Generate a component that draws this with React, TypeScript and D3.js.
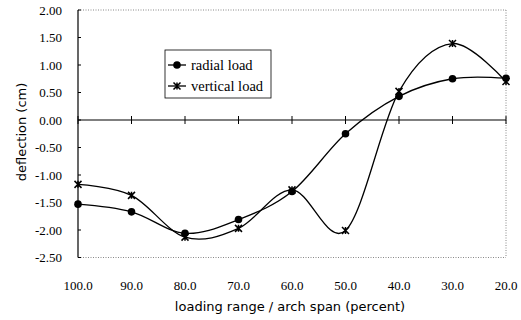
import { useEffect, useRef } from 'react';
import { select, scaleLinear, line, curveCardinal } from 'd3';

const spans = [100, 90, 80, 70, 60, 50, 40, 30, 20];
const radialLoad = [-1.53, -1.67, -2.06, -1.81, -1.3, -0.25, 0.43, 0.75, 0.76];
const verticalLoad = [-1.17, -1.37, -2.13, -1.97, -1.27, -2.01, 0.52, 1.39, 0.7];
const yTicks = [2, 1.5, 1, 0.5, 0, -0.5, -1, -1.5, -2, -2.5];

const App = () => {
    const svgRef = useRef(null);

    useEffect(() => {
        const width = 521;
        const height = 320;
        const margin = { top: 10, right: 15, bottom: 62, left: 78 };
        const plotWidth = width - margin.left - margin.right;
        const font = '"Liberation Serif", "Times New Roman", serif';
        const sans = '"DejaVu Sans", sans-serif';

        const svg = select(svgRef.current);
        svg.selectAll('*').remove();
        svg.attr('width', width).attr('height', height);

        const g = svg.append('g')
            .attr('transform', `translate(${margin.left},${margin.top})`);

        const x = scaleLinear().domain([100, 20]).range([0, plotWidth]);
        const y = scaleLinear().domain([2, -2.5]).range([0, 247.5]);

        // dotted frame (top, right, bottom)
        const dotted = (x1, y1, x2, y2) => g.append('line')
            .attr('x1', x1).attr('y1', y1).attr('x2', x2).attr('y2', y2)
            .attr('stroke', '#888').attr('stroke-width', 1)
            .attr('stroke-dasharray', '1,1.5');
        dotted(0, y(2), plotWidth, y(2));
        dotted(plotWidth, y(2), plotWidth, y(-2.5));
        dotted(0, y(-2.5), plotWidth, y(-2.5));

        // left axis
        g.append('line')
            .attr('x1', 0).attr('x2', 0).attr('y1', y(2)).attr('y2', y(-2.5))
            .attr('stroke', '#000').attr('stroke-width', 1.2);
        g.selectAll('.ytick').data(yTicks).enter().append('line')
            .attr('x1', 0).attr('x2', 3)
            .attr('y1', d => y(d)).attr('y2', d => y(d))
            .attr('stroke', '#000');
        g.selectAll('.ylab').data(yTicks).enter().append('text')
            .attr('x', -16).attr('y', d => y(d) + 4.5)
            .attr('text-anchor', 'end')
            .attr('font-family', font).attr('font-size', 13)
            .text(d => d.toFixed(2));

        // zero line with ticks
        g.append('line')
            .attr('x1', 0).attr('x2', plotWidth).attr('y1', y(0)).attr('y2', y(0))
            .attr('stroke', '#000').attr('stroke-width', 1.1);
        g.selectAll('.xtick').data(spans).enter().append('line')
            .attr('x1', d => x(d)).attr('x2', d => x(d))
            .attr('y1', y(0) - 4).attr('y2', y(0) + 4)
            .attr('stroke', '#000');
        g.selectAll('.xlab').data(spans).enter().append('text')
            .attr('x', d => x(d)).attr('y', 280)
            .attr('text-anchor', 'middle')
            .attr('font-family', font).attr('font-size', 13)
            .text(d => d.toFixed(1));

        // axis titles
        svg.append('text')
            .attr('x', 290).attr('y', 311)
            .attr('text-anchor', 'middle')
            .attr('font-family', sans).attr('font-size', 13)
            .text('loading range / arch span (percent)');
        svg.append('text')
            .attr('transform', 'translate(26,132) rotate(-90)')
            .attr('text-anchor', 'middle')
            .attr('font-family', sans).attr('font-size', 13)
            .text('deflection (cm)');

        const path = line()
            .x(d => x(d[0]))
            .y(d => y(d[1]))
            .curve(curveCardinal.tension(0));

        const drawSeries = (values) => {
            g.append('path')
                .datum(spans.map((s, i) => [s, values[i]]))
                .attr('d', path)
                .attr('fill', 'none')
                .attr('stroke', '#000')
                .attr('stroke-width', 1.3);
        };
        drawSeries(radialLoad);
        drawSeries(verticalLoad);

        const star = (sel, cx, cy, r) => {
            sel.append('path')
                .attr('d', `M${cx - r},${cy - r}L${cx + r},${cy + r}M${cx - r},${cy + r}L${cx + r},${cy - r}M${cx},${cy - r}L${cx},${cy + r}`)
                .attr('stroke', '#000').attr('stroke-width', 1.5);
        };

        g.selectAll('.dot').data(radialLoad).enter().append('circle')
            .attr('cx', (d, i) => x(spans[i])).attr('cy', d => y(d))
            .attr('r', 3.8).attr('fill', '#000');
        verticalLoad.forEach((v, i) => star(g, x(spans[i]), y(v), 3.5));

        // legend
        const lg = svg.append('g').attr('transform', 'translate(165,50)');
        lg.append('rect')
            .attr('width', 106).attr('height', 48)
            .attr('fill', '#fff').attr('stroke', '#000').attr('stroke-width', 0.8);
        lg.append('line').attr('x1', 3).attr('x2', 21).attr('y1', 15).attr('y2', 15)
            .attr('stroke', '#000').attr('stroke-width', 1.3);
        lg.append('circle').attr('cx', 12).attr('cy', 15).attr('r', 3.8).attr('fill', '#000');
        lg.append('line').attr('x1', 3).attr('x2', 21).attr('y1', 36).attr('y2', 36)
            .attr('stroke', '#000').attr('stroke-width', 1.3);
        star(lg, 12, 36, 3.5);
        lg.append('text').attr('x', 26).attr('y', 20)
            .attr('font-family', font).attr('font-size', 14.5).text('radial load');
        lg.append('text').attr('x', 26).attr('y', 41)
            .attr('font-family', font).attr('font-size', 14.5).text('vertical load');
    }, []);

    return <svg ref={svgRef} style={{ position: 'absolute', left: 0, top: 0, background: '#fff' }}></svg>;
};

export default App;
